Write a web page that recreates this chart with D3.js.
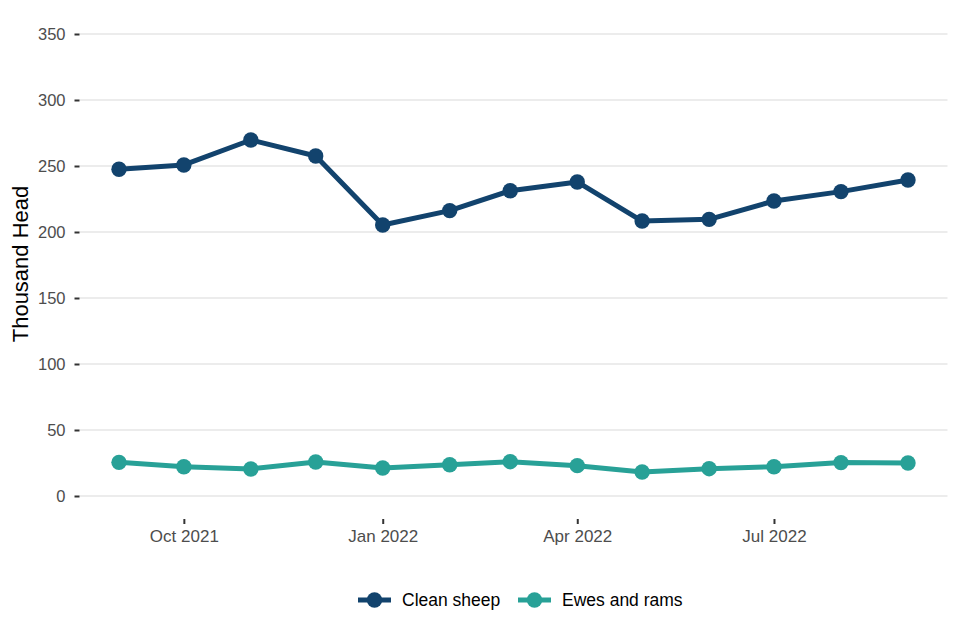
<!DOCTYPE html>
<html>
<head>
<meta charset="utf-8">
<script src="https://cdn.jsdelivr.net/npm/d3@7"></script>
<style>
  html, body { margin: 0; padding: 0; background: #ffffff; }
  svg { display: block; font-family: "Liberation Sans", Arial, sans-serif; }
</style>
</head>
<body>
<svg id="chart" width="960" height="640"></svg>
<script>
const months = ["2021-09-01","2021-10-01","2021-11-01","2021-12-01","2022-01-01","2022-02-01",
                "2022-03-01","2022-04-01","2022-05-01","2022-06-01","2022-07-01","2022-08-01","2022-09-01"];
const cleanSheep = [247.5, 250.8, 269.7, 257.6, 205.3, 216.2, 231.3, 237.9, 208.3, 209.6, 223.5, 230.6, 239.4];
const ewesAndRams = [25.5, 22.2, 20.5, 25.8, 21.2, 23.7, 26.0, 23.0, 18.2, 20.7, 22.2, 25.3, 25.0];
const seriesNames = ["Clean sheep", "Ewes and rams"];
const seriesColors = ["#12436D", "#28A197"];
const yTicks = [0, 50, 100, 150, 200, 250, 300, 350];
const xTickDates = ["2021-10-01", "2022-01-01", "2022-04-01", "2022-07-01"];
const yTitle = "Thousand Head";

const parse = d3.timeParse("%Y-%m-%d");
const dates = months.map(parse);
const series = [cleanSheep, ewesAndRams].map((vals, i) => ({
  name: seriesNames[i], color: seriesColors[i],
  values: vals.map((v, j) => ({ date: dates[j], value: v }))
}));

const svg = d3.select("#chart");
const panel = { left: 79.5, right: 947.5, top: 11, bottom: 519 };

const x = d3.scaleTime().domain([dates[0], dates[dates.length - 1]]).range([119, 908]);
const y = d3.scaleLinear().domain([0, 350]).range([496, 34]);

// gridlines
svg.append("g").selectAll("line").data(yTicks).join("line")
  .attr("x1", panel.left).attr("x2", panel.right)
  .attr("y1", d => y(d)).attr("y2", d => y(d))
  .attr("stroke", "#e6e6e6").attr("stroke-width", 1.6);

const font = "'Liberation Sans', Arial, sans-serif";

// y axis
const yAxis = svg.append("g").attr("transform", `translate(${panel.left},0)`)
  .call(d3.axisLeft(y).tickValues(yTicks).tickSize(5).tickPadding(9).tickFormat(d3.format("d")));
yAxis.select(".domain").remove();
yAxis.selectAll(".tick line").attr("stroke", "#333333").attr("stroke-width", 2);
yAxis.selectAll(".tick text").attr("fill", "#4d4d4d").style("font-size", "16.5px")
  .style("font-family", font);

// x axis
const xAxis = svg.append("g").attr("transform", `translate(0,${panel.bottom})`)
  .call(d3.axisBottom(x).tickValues(xTickDates.map(parse)).tickSize(5).tickPadding(6)
    .tickFormat(d3.timeFormat("%b %Y")));
xAxis.select(".domain").remove();
xAxis.selectAll(".tick line").attr("stroke", "#333333").attr("stroke-width", 2);
xAxis.selectAll(".tick text").attr("fill", "#4d4d4d").style("font-size", "17px")
  .style("font-family", font);

// y title
svg.append("text")
  .attr("transform", `translate(28,264) rotate(-90)`)
  .attr("text-anchor", "middle")
  .attr("fill", "#000")
  .style("font-size", "22px")
  .text(yTitle);

// lines and points
const line = d3.line().x(d => x(d.date)).y(d => y(d.value));
const g = svg.append("g");
series.forEach(s => {
  g.append("path").datum(s.values)
    .attr("fill", "none").attr("stroke", s.color).attr("stroke-width", 5)
    .attr("stroke-linejoin", "round")
    .attr("d", line);
  g.append("g").selectAll("circle").data(s.values).join("circle")
    .attr("cx", d => x(d.date)).attr("cy", d => y(d.value))
    .attr("r", 7.7).attr("fill", s.color);
});

// legend
const legendY = 600;
const legendItems = [
  { x: 358, textX: 402 },
  { x: 518, textX: 562 }
];
series.forEach((s, i) => {
  const lg = svg.append("g");
  lg.append("line").attr("x1", legendItems[i].x).attr("x2", legendItems[i].x + 33)
    .attr("y1", legendY).attr("y2", legendY)
    .attr("stroke", s.color).attr("stroke-width", 5);
  lg.append("circle").attr("cx", legendItems[i].x + 16.5).attr("cy", legendY)
    .attr("r", 7.7).attr("fill", s.color);
  lg.append("text").attr("x", legendItems[i].textX).attr("y", legendY + 6)
    .attr("fill", "#000").style("font-size", "17.5px").text(s.name);
});
</script>
</body>
</html>
